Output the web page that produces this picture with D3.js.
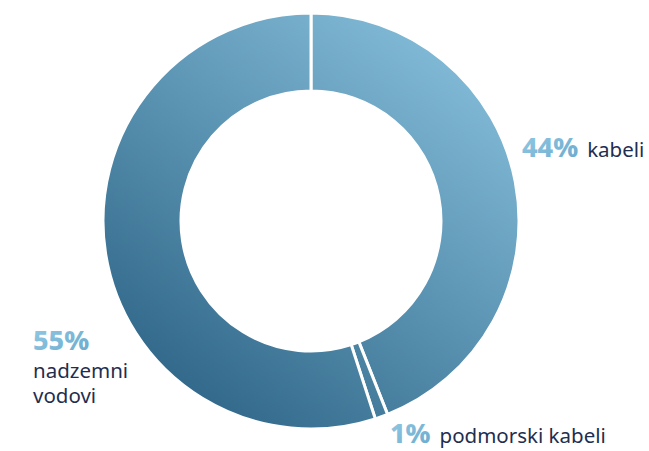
<!DOCTYPE html>
<html>
<head>
<meta charset="utf-8">
<script src="https://cdn.jsdelivr.net/npm/d3@7"></script>
<style>
  body { margin: 0; background: #fff; }
  svg { display: block; font-family: "Noto Sans", Lato, sans-serif; }
</style>
</head>
<body>
<svg id="chart"></svg>
<script>
var categories = ['kabeli', 'podmorski kabeli', 'nadzemni vodovi'];
var values = [44, 1, 55];
var labelLines = [['kabeli'], ['podmorski kabeli'], ['nadzemni', 'vodovi']];

var width = 649,
    height = 451,
    cx = 311,
    cy = 221,
    outerR = 208,
    innerR = 130;

var svg = d3.select('#chart')
    .attr('width', width)
    .attr('height', height);

var defs = svg.append('defs');

// ring gradient, light top-right to dark bottom-left
var ringGrad = defs.append('linearGradient')
    .attr('id', 'ringGrad')
    .attr('gradientUnits', 'userSpaceOnUse')
    .attr('x1', cx + 170).attr('y1', cy - 200)
    .attr('x2', cx - 150).attr('y2', cy + 210);
ringGrad.append('stop').attr('offset', '0%').attr('stop-color', '#8cc5e1');
ringGrad.append('stop').attr('offset', '100%').attr('stop-color', '#2d6486');

var textGrad = defs.append('linearGradient')
    .attr('id', 'textGrad')
    .attr('x1', '0%').attr('y1', '0%')
    .attr('x2', '100%').attr('y2', '100%');
textGrad.append('stop').attr('offset', '0%').attr('stop-color', '#92cbe6');
textGrad.append('stop').attr('offset', '100%').attr('stop-color', '#6aa8cb');

var data = categories.map(function (c, i) {
    return { name: c, value: values[i], lines: labelLines[i] };
});

var pie = d3.pie()
    .sort(null)
    .value(function (d) { return d.value; });

var arc = d3.arc()
    .innerRadius(innerR)
    .outerRadius(outerR);

var chart = svg.append('g');

chart.selectAll('.slice')
    .data(pie(data))
    .enter().append('path')
    .attr('class', 'slice')
    .attr('d', arc)
    .attr('transform', 'translate(' + cx + ',' + cy + ')')
    .attr('fill', 'url(#ringGrad)')
    .attr('stroke', '#fff')
    .attr('stroke-width', 3);

// labels
var labelPos = [
    { x: 522, y: 157, inline: true },
    { x: 390, y: 443, inline: true },
    { x: 33, y: 350, inline: false }
];

var labels = svg.selectAll('.label')
    .data(data)
    .enter().append('g')
    .attr('class', 'label');

labels.each(function (d, i) {
    var g = d3.select(this),
        p = labelPos[i];
    var pct = g.append('text')
        .attr('x', p.x)
        .attr('y', p.y)
        .attr('font-size', 27)
        .attr('font-weight', 800)
        .attr('fill', 'url(#textGrad)')
        .text(d.value + '%');
    if (p.inline) {
        var w = pct.node().getComputedTextLength();
        g.append('text')
            .attr('x', p.x + w + 9)
            .attr('y', p.y)
            .attr('font-size', 20.5)
            .attr('fill', '#1f2e4f')
            .text(d.lines[0]);
    } else {
        d.lines.forEach(function (line, j) {
            g.append('text')
                .attr('x', p.x)
                .attr('y', p.y + 28 + j * 25)
                .attr('font-size', 20.5)
                .attr('fill', '#1f2e4f')
                .text(line);
        });
    }
});
</script>
</body>
</html>
